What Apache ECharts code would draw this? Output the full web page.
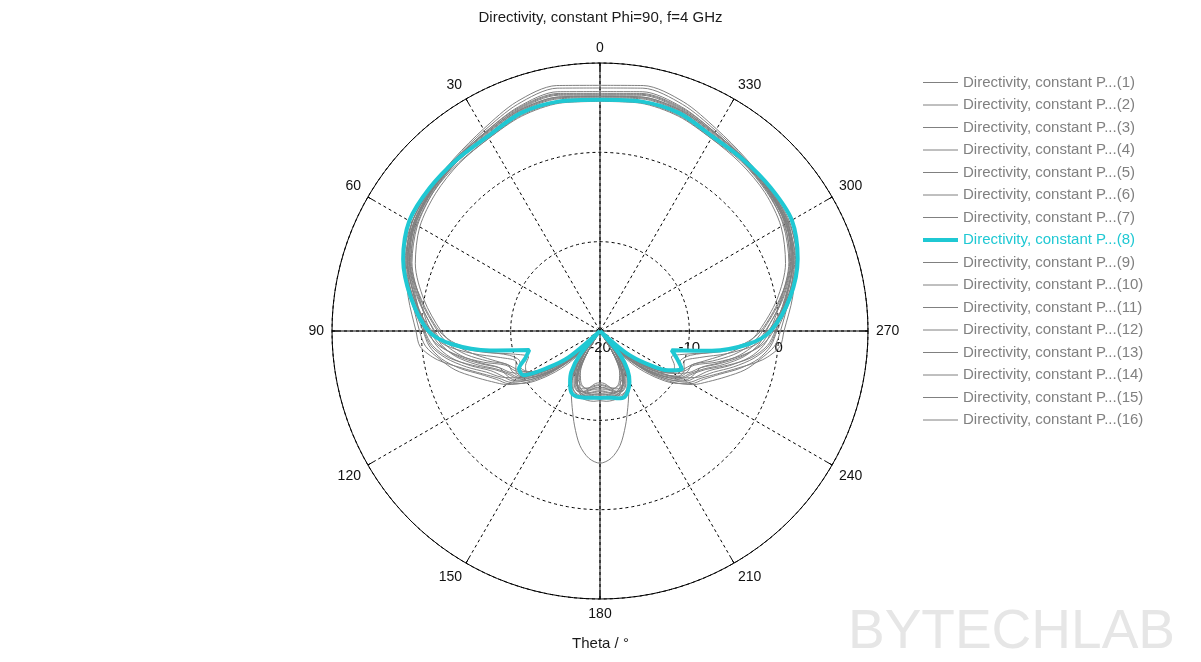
<!DOCTYPE html>
<html>
<head>
<meta charset="utf-8">
<script src="https://cdn.jsdelivr.net/npm/echarts@6/dist/echarts.min.js"></script>
<style>
html,body{margin:0;padding:0;background:#fff;}
#chart{width:1201px;height:662px;}
</style>
</head>
<body>
<div id="chart"></div>
<script>
// Theta grid (degrees)
const thetas = [0,10,20,30,40,50,60,70,80,90,
  95,100,105,110,115,120,125,130,135,140,
  145,150,155,160,165,170,175,180,185,190,
  195,200,205,210,215,220,225,230,235,240,
  245,250,255,260,265,
  270,280,290,300,310,320,330,340,350,360];

// Directivity (dBi) per series
const s1 = [7.5,7.9,7.3,6.1,5.3,4.8,4.3,3.0,1.0,-0.6,
 -1.8,-4.0,-6.5,-8.8,-9.5,-10.8,-13.0,-15.5,-18.0,-20,
 -16.5,-14.6,-13.6,-13.2,-13.3,-13.6,-13.9,-14.0,-13.9,-13.6,
 -13.3,-13.2,-13.6,-14.6,-16.5,-20,-18.0,-15.5,-13.0,-10.8,
 -9.5,-8.8,-6.5,-4.0,-1.8,
 -0.6,1.0,3.0,4.3,4.8,5.3,6.1,7.3,7.9,7.5];
const s2 = [7.2,7.6,7.0,5.9,5.2,4.7,4.1,2.8,0.9,-0.3,
 -1.0,-2.5,-4.5,-6.5,-7.8,-9.5,-12.0,-14.5,-17.5,-20,
 -17.0,-15.0,-13.8,-13.1,-12.9,-13.0,-13.2,-13.3,-13.2,-13.0,
 -12.9,-13.1,-13.8,-15.0,-17.0,-20,-17.5,-14.5,-12.0,-9.5,
 -7.8,-6.5,-4.5,-2.5,-1.0,
 -0.3,1.1,2.9,4.1,4.7,5.2,5.9,7.0,7.6,7.2];
const s3 = [6.8,7.2,6.7,5.7,5.0,4.5,3.8,2.5,0.5,-1.0,
 -2.0,-3.8,-6.0,-8.0,-9.0,-10.5,-12.5,-15.0,-18.0,-20,
 -16.0,-13.8,-12.4,-10.9,-9.0,-7.0,-5.7,-5.2,-5.7,-7.0,
 -9.0,-10.9,-12.4,-13.8,-16.0,-20,-18.0,-15.0,-12.5,-10.5,
 -9.0,-8.0,-6.0,-3.8,-2.0,
 -1.0,0.6,2.6,3.9,4.6,5.1,5.7,6.7,7.2,6.8];
const s4 = [6.4,6.8,6.4,5.6,5.1,4.6,4.1,3.2,1.8,0.6,
 0.2,-1.5,-4.0,-6.0,-7.5,-8.5,-10.5,-13.0,-16.0,-18.5,
 -20,-16.0,-14.0,-13.0,-12.6,-12.5,-12.5,-12.6,-12.5,-12.5,
 -12.6,-13.0,-14.0,-16.0,-20,-18.5,-16.0,-13.0,-10.5,-8.5,
 -7.5,-6.0,-4.0,-1.5,0.2,
 0.6,1.9,3.3,4.2,4.7,5.1,5.6,6.4,6.8,6.4];
const s5 = [6.2,6.5,6.2,5.3,5.0,4.7,4.3,3.1,1.2,-1.2,
 -3.0,-6.5,-10.0,-11.5,-10.8,-10.6,-12.0,-14.2,-17.0,-20,
 -15.5,-13.6,-12.8,-12.4,-12.2,-12.1,-12.1,-12.2,-12.1,-12.1,
 -12.2,-12.4,-12.8,-13.6,-15.5,-20,-17.0,-14.2,-12.0,-10.6,
 -10.8,-11.5,-10.0,-6.5,-3.0,
 -1.2,1.3,3.2,4.3,4.7,5.0,5.3,6.2,6.5,6.2];
const s6 = [6.1,6.4,6.1,5.2,4.8,4.3,3.6,2.4,0.4,-1.8,
 -3.0,-4.8,-7.0,-9.0,-9.2,-9.8,-11.8,-14.0,-17.0,-20,
 -17.5,-15.0,-13.8,-13.3,-13.0,-13.3,-13.6,-13.6,-13.6,-13.3,
 -13.0,-13.3,-13.8,-15.0,-17.5,-20,-17.0,-14.0,-11.8,-9.8,
 -9.2,-9.0,-7.0,-4.8,-3.0,
 -1.8,0.5,2.5,3.7,4.4,4.8,5.2,6.1,6.4,6.1];
const s7 = [6.0,6.2,6.0,5.2,4.9,4.8,4.5,3.3,1.2,-1.0,
 -2.5,-5.5,-8.5,-10.0,-9.6,-9.9,-11.5,-13.5,-16.0,-18.5,
 -20,-16.0,-14.0,-13.0,-12.7,-12.9,-13.1,-13.2,-13.1,-12.9,
 -12.7,-13.0,-14.0,-16.0,-20,-18.5,-16.0,-13.5,-11.5,-9.9,
 -9.6,-10.0,-8.5,-5.5,-2.5,
 -1.0,1.3,3.4,4.5,4.8,4.9,5.2,6.0,6.2,6.0];
const s8 = [5.9,6.1,5.95,5.15,5.0,4.9,4.65,3.45,1.5,-0.8,
 -3.3,-7.5,-11.8,-11.1,-10.0,-10.1,-12.8,-15.4,-20,-16.5,
 -14.4,-13.3,-12.4,-12.2,-12.3,-12.4,-12.5,-12.5,-12.5,-12.4,
 -12.2,-12.1,-12.6,-13.4,-14.6,-16.5,-20,-16.2,-13.6,-11.2,
 -9.9,-10.8,-11.7,-7.3,-3.3,
 -0.9,1.6,3.55,4.8,4.95,5.0,5.15,5.95,6.1,5.9];
const s9 = [6.3,6.6,6.3,5.4,4.9,4.5,3.9,2.7,0.7,-1.5,
 -2.6,-4.2,-6.2,-8.0,-8.4,-9.0,-11.0,-13.5,-16.5,-20,
 -16.0,-14.2,-13.2,-12.8,-13.0,-13.6,-14.1,-14.2,-14.1,-13.6,
 -13.0,-12.8,-13.2,-14.2,-16.0,-20,-16.5,-13.5,-11.0,-9.0,
 -8.4,-8.0,-6.2,-4.2,-2.6,
 -1.5,0.8,2.8,4.0,4.5,4.9,5.4,6.3,6.6,6.3];
const s10 = [5.9,6.1,5.9,5.1,4.8,4.4,3.9,2.9,1.0,-0.8,
 -1.6,-3.0,-5.0,-7.0,-8.0,-8.8,-10.5,-12.8,-15.5,-18.5,
 -20,-15.5,-13.6,-13.0,-12.9,-13.2,-13.6,-13.7,-13.6,-13.2,
 -12.9,-13.0,-13.6,-15.5,-20,-18.5,-15.5,-12.8,-10.5,-8.8,
 -8.0,-7.0,-5.0,-3.0,-1.6,
 -0.8,1.1,3.0,4.0,4.4,4.8,5.1,5.9,6.1,5.9];
const s11 = [5.8,6.0,5.7,4.9,4.5,4.0,3.3,2.0,0.0,-2.2,
 -3.5,-5.5,-7.5,-9.0,-9.8,-10.8,-12.5,-14.8,-17.5,-20,
 -16.5,-14.5,-13.4,-12.8,-12.6,-12.7,-12.9,-13.0,-12.9,-12.7,
 -12.6,-12.8,-13.4,-14.5,-16.5,-20,-17.5,-14.8,-12.5,-10.8,
 -9.8,-9.0,-7.5,-5.5,-3.5,
 -2.2,0.1,2.1,3.4,4.1,4.5,4.9,5.7,6.0,5.8];
const s12 = [6.5,6.9,6.5,5.6,5.2,4.8,4.3,3.4,1.6,-0.2,
 -0.8,-2.0,-3.8,-5.8,-7.2,-8.2,-9.8,-12.0,-14.5,-17.5,
 -20,-17.0,-14.8,-13.8,-13.4,-13.3,-13.4,-13.4,-13.4,-13.3,
 -13.4,-13.8,-14.8,-17.0,-20,-17.5,-14.5,-12.0,-9.8,-8.2,
 -7.2,-5.8,-3.8,-2.0,-0.8,
 -0.2,1.7,3.5,4.4,4.8,5.2,5.6,6.5,6.9,6.5];
const s13 = [5.7,5.9,5.6,4.9,4.6,4.3,3.7,2.6,0.6,-1.4,
 -2.2,-3.6,-5.6,-7.6,-8.8,-9.6,-11.2,-13.2,-15.8,-19.0,
 -20,-16.8,-14.6,-13.4,-12.9,-12.8,-12.9,-12.9,-12.9,-12.8,
 -12.9,-13.4,-14.6,-16.8,-20,-19.0,-15.8,-13.2,-11.2,-9.6,
 -8.8,-7.6,-5.6,-3.6,-2.2,
 -1.4,0.7,2.7,3.8,4.3,4.7,4.9,5.6,5.9,5.7];
const s14 = [6.6,7.0,6.6,5.7,5.1,4.6,4.0,2.9,1.1,-0.4,
 -1.2,-2.8,-5.2,-7.4,-8.6,-9.4,-11.0,-13.2,-16.0,-20,
 -17.0,-15.2,-14.2,-13.6,-13.4,-13.5,-13.8,-13.9,-13.8,-13.5,
 -13.4,-13.6,-14.2,-15.2,-17.0,-20,-16.0,-13.2,-11.0,-9.4,
 -8.6,-7.4,-5.2,-2.8,-1.2,
 -0.4,1.2,3.0,4.1,4.6,5.1,5.7,6.6,7.0,6.6];
const s15 = [5.95,6.15,5.9,5.1,4.8,4.5,4.0,2.7,0.3,-2.0,
 -3.8,-6.8,-9.5,-10.4,-10.2,-10.9,-12.6,-14.6,-17.2,-20,
 -15.8,-13.9,-12.9,-12.5,-12.5,-12.6,-12.8,-12.8,-12.8,-12.6,
 -12.5,-12.5,-12.9,-13.9,-15.8,-20,-17.2,-14.6,-12.6,-10.9,
 -10.2,-10.4,-9.5,-6.8,-3.8,
 -2.0,0.4,2.8,4.1,4.5,4.9,5.1,5.9,6.15,5.95];
const s16 = [6.25,6.6,6.3,5.5,5.0,4.6,4.1,3.0,1.4,0.2,
 -0.4,-1.8,-3.2,-5.0,-6.6,-8.0,-10.0,-12.5,-15.5,-18.0,
 -20,-16.5,-14.0,-12.9,-12.4,-12.3,-12.4,-12.4,-12.4,-12.3,
 -12.4,-12.9,-14.0,-16.5,-20,-18.0,-15.5,-12.5,-10.0,-8.0,
 -6.6,-5.0,-3.2,-1.8,-0.4,
 0.2,1.5,3.1,4.2,4.6,5.0,5.5,6.3,6.6,6.25];

const seriesValues = [s1,s2,s3,s4,s5,s6,s7,s8,s9,s10,s11,s12,s13,s14,s15,s16];
const seriesNames = seriesValues.map((_, i) => 'Directivity, constant P...(' + (i + 1) + ')');
const highlightIndex = 7;
const angleTicks = [0,30,60,90,120,150,180,210,240,270,300,330];

const GRAY = '#808080';
const CYAN = '#1fc8d3';
const FONT = 'Liberation Sans, Arial, sans-serif';

// Angle axis runs 270..630 starting at east (counter-clockwise) so that theta=0 is at top
const toAxisAngle = t => (t < 270 ? t + 360 : t);

const chart = echarts.init(document.getElementById('chart'), null, {renderer: 'canvas'});

const option = {
  animation: false,
  backgroundColor: '#ffffff',
  textStyle: {fontFamily: FONT},
  title: [
    {text: 'Directivity, constant Phi=90, f=4 GHz', left: 'center', top: 10, padding: 0,
     textStyle: {fontSize: 15, fontWeight: 'normal', color: '#1a1a1a', fontFamily: FONT}},
    {text: 'Theta / °', left: 'center', top: 636, padding: 0,
     textStyle: {fontSize: 15, fontWeight: 'normal', color: '#1a1a1a', fontFamily: FONT}},
    {text: 'BYTECHLAB', right: 26, top: 605, padding: 0,
     textStyle: {fontSize: 55, fontWeight: 'normal', color: '#e6e6e6', fontFamily: FONT}}
  ],
  legend: {
    orient: 'vertical', left: 921, top: 75, padding: 0,
    itemWidth: 35, itemHeight: 16, itemGap: 7.5,
    selectedMode: false,
    itemStyle: {opacity: 0},
    textStyle: {fontSize: 15, color: GRAY, fontFamily: FONT},
    data: seriesNames.map((n, i) => ({
      name: n,
      lineStyle: {width: i === highlightIndex ? 4 : 1, color: i === highlightIndex ? CYAN : GRAY},
      textStyle: {color: i === highlightIndex ? CYAN : GRAY}
    }))
  },
  polar: [
    {center: [600, 331], radius: 268},
    {center: [600, 331], radius: 268}
  ],
  angleAxis: [
    {
      polarIndex: 0, type: 'value', min: 270, max: 630, interval: 30,
      startAngle: 0, clockwise: false,
      axisLine: {show: true, lineStyle: {color: '#000', width: 1}},
      axisTick: {show: true, inside: true, length: 6, lineStyle: {color: '#000', width: 1}},
      axisLabel: {show: true, color: '#111', fontSize: 14, margin: 8, fontFamily: FONT,
        formatter: v => String(angleTicks.indexOf(v % 360) >= 0 ? v % 360 : '')},
      splitLine: {show: true, lineStyle: {color: '#000', width: 1, type: [3, 3]}}
    },
    {
      polarIndex: 1, type: 'value', min: 270, max: 630, interval: 90,
      startAngle: 0, clockwise: false,
      axisLine: {show: false}, axisTick: {show: false}, axisLabel: {show: false},
      splitLine: {show: true, lineStyle: {color: '#000', width: 1, type: 'solid'}}
    }
  ],
  radiusAxis: [
    {
      polarIndex: 0, type: 'value', min: -20, max: 10, interval: 10,
      axisLine: {show: false}, axisTick: {show: false},
      axisLabel: {show: true, color: '#111', fontSize: 15, fontFamily: FONT,
        showMaxLabel: false, margin: -9, verticalAlign: 'top', align: 'center'},
      splitLine: {show: true, lineStyle: {color: '#000', width: 1, type: [3, 3]}}
    },
    {polarIndex: 1, type: 'value', min: -20, max: 10, show: false}
  ],
  series: seriesValues.map((vals, i) => ({
    type: 'line',
    name: seriesNames[i],
    coordinateSystem: 'polar',
    polarIndex: 0,
    symbol: 'none',
    showSymbol: false,
    smooth: 0.3,
    silent: true,
    z: i === highlightIndex ? 5 : 2,
    lineStyle: {color: i === highlightIndex ? CYAN : GRAY, width: i === highlightIndex ? 4 : 1},
    itemStyle: {color: i === highlightIndex ? CYAN : GRAY},
    emphasis: {disabled: true},
    data: thetas.map((t, k) => [vals[k], toAxisAngle(t)])
  }))
};

chart.setOption(option);
</script>
</body>
</html>
